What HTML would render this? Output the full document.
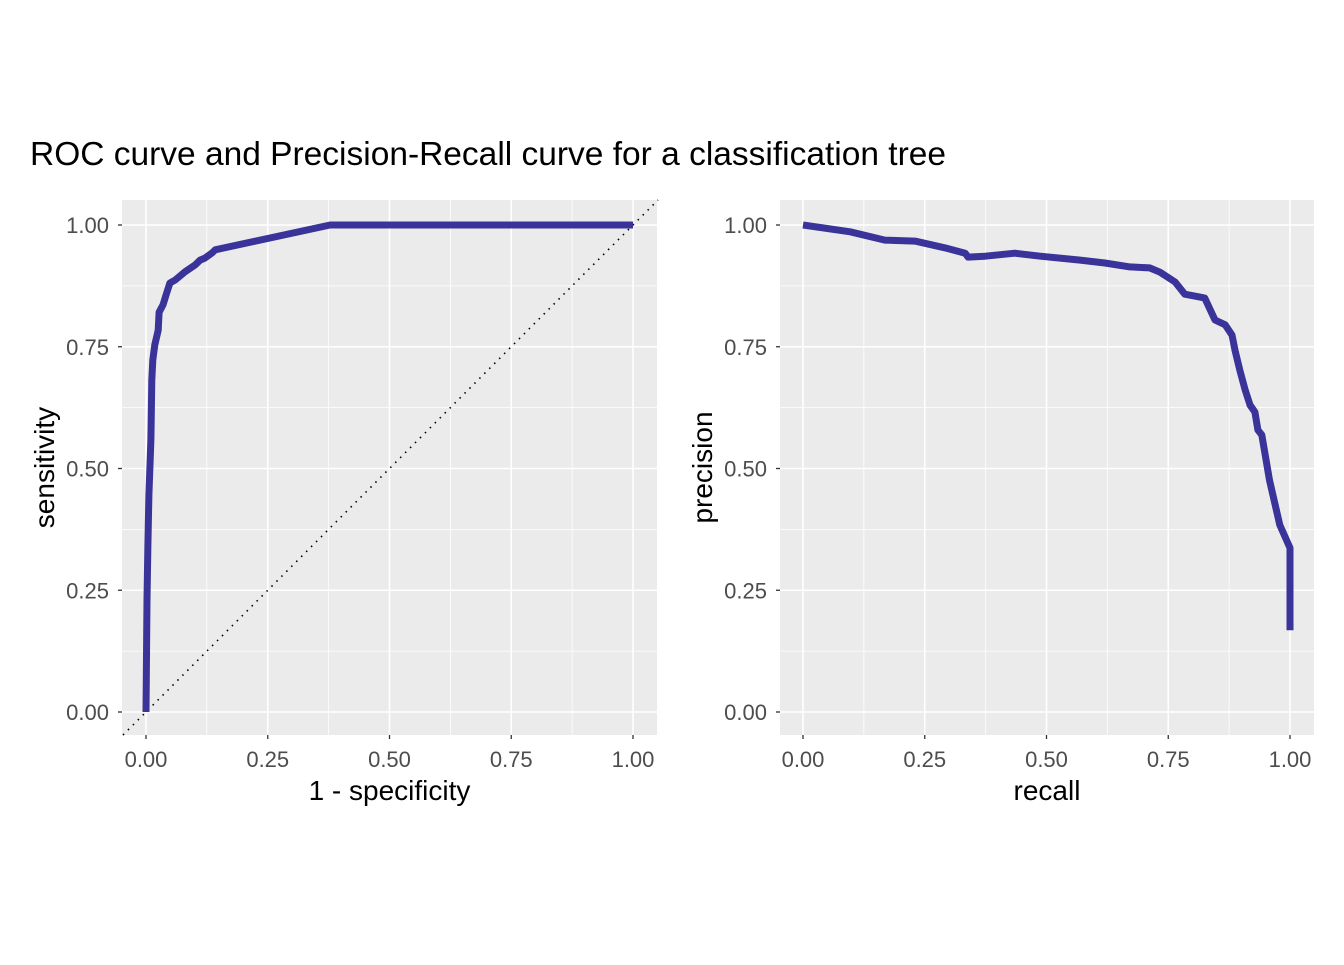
<!DOCTYPE html>
<html><head><meta charset="utf-8"><style>
body{margin:0;background:#fff;}
svg text{font-family:"Liberation Sans",Arial,sans-serif;}
</style></head><body>
<svg id="chart" width="1344" height="960" xmlns="http://www.w3.org/2000/svg">
<text x="30" y="165" font-size="33.5" fill="#000">ROC curve and Precision-Recall curve for a classification tree</text>
<g id="p1"></g>
<g id="p2"></g>
</svg>
<script>
const ticks=[0,0.25,0.5,0.75,1];
const tickLabels=["0.00","0.25","0.50","0.75","1.00"];
const rocFpr=[0,.002,.004,.006,.010,.012,.014,.018,.025,.027,.035,.041,.049,.060,.080,.101,.111,.121,.136,.142,.378,.871,1];
const rocTpr=[0,.23,.343,.446,.559,.682,.723,.754,.784,.821,.836,.856,.881,.887,.904,.918,.928,.932,.943,.949,1,1,1];
const prRecall=[0,.097,.168,.230,.292,.333,.339,.374,.435,.487,.569,.620,.671,.712,.733,.764,.784,.815,.825,.846,.867,.881,.887,.897,.908,.918,.928,.934,.942,.958,.979,1,1];
const prPrecision=[1,.986,.969,.967,.953,.942,.934,.936,.942,.936,.928,.922,.914,.912,.903,.883,.858,.852,.850,.805,.795,.774,.743,.702,.661,.630,.616,.579,.569,.476,.384,.337,.168];
const NS="http://www.w3.org/2000/svg";
function mk(p,tag,attrs){const e=document.createElementNS(NS,tag);for(const k in attrs)e.setAttribute(k,attrs[k]);p.appendChild(e);return e;}
function panel(g,left,right,x0,xs,xv,yv,xt,yt,diag){
  const top=200,bottom=735,y0=712,s=487;
  const X=v=>x0+v*s, Y=v=>y0-v*s;
  const bg=mk(g,'rect',{x:left,y:top,width:right-left,height:bottom-top,fill:'#ebebeb'});
  
  
  for(let i=0;i<4;i++){const m=(ticks[i]+ticks[i+1])/2;
    mk(g,'line',{x1:X(m),x2:X(m),y1:top,y2:bottom,stroke:'#fff','stroke-width':0.8});
    mk(g,'line',{x1:left,x2:right,y1:Y(m),y2:Y(m),stroke:'#fff','stroke-width':0.8});}
  ticks.forEach((t,i)=>{
    mk(g,'line',{x1:X(t),x2:X(t),y1:top,y2:bottom,stroke:'#fff','stroke-width':1.6});
    mk(g,'line',{x1:left,x2:right,y1:Y(t),y2:Y(t),stroke:'#fff','stroke-width':1.6});
    mk(g,'line',{x1:X(t),x2:X(t),y1:bottom,y2:bottom+4,stroke:'#333','stroke-width':1.3});
    mk(g,'line',{x1:left-4,x2:left,y1:Y(t),y2:Y(t),stroke:'#333','stroke-width':1.3});
    const tx=mk(g,'text',{x:X(t),y:767,'font-size':22,fill:'#4d4d4d','text-anchor':'middle'});tx.textContent=tickLabels[i];
    
    
    const ty=mk(g,'text',{x:left-13,y:Y(t)+8,'font-size':22,fill:'#4d4d4d','text-anchor':'end'});ty.textContent=tickLabels[i];
    
    
  });
  if(diag){const d=mk(g,'line',{stroke:'#000','stroke-width':1.6,'stroke-dasharray':'1.5 5.5'});
    
    
    const a=(bottom-y0)/s, b=(y0-top)/s; d.setAttribute('x1',X(-a));d.setAttribute('y1',Y(-a));d.setAttribute('x2',X(b));d.setAttribute('y2',Y(b));}
  const pts=xv.map((v,i)=>X(v).toFixed(1)+','+Y(yv[i]).toFixed(1)).join(' ');
  const pl=mk(g,'polyline',{points:pts,fill:'none',stroke:'#3a3399','stroke-width':7,'stroke-linejoin':'round'});
  
  
  const xl=mk(g,'text',{x:(left+right)/2,y:800,'font-size':28,fill:'#000','text-anchor':'middle'});xl.textContent=xt;
  
  
  const cx=left-68, cy=(top+bottom)/2;
  const yl=mk(g,'text',{x:cx,y:cy,'font-size':28,fill:'#000','text-anchor':'middle',transform:`rotate(-90 ${cx} ${cy})`});yl.textContent=yt;
  
  
}
panel(document.getElementById('p1'),122,657,146,487,rocFpr,rocTpr,'1 - specificity','sensitivity',true);
panel(document.getElementById('p2'),780,1314,803,487,prRecall,prPrecision,'recall','precision',false);
</script>
</body></html>
